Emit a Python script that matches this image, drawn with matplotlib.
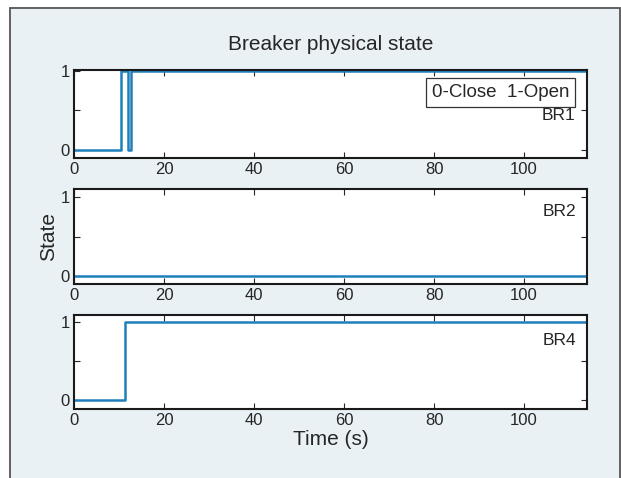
import matplotlib
matplotlib.use("Agg")
import matplotlib.pyplot as plt
from matplotlib.patches import Rectangle

plt.rcParams["font.family"] = ["Liberation Sans", "DejaVu Sans"]

# breaker state change points (step, held after each time)
br1_t = [0, 10.4, 12.1, 12.6, 115]
br1_s = [0, 1, 0, 1, 1]
br2_t = [0, 115]
br2_s = [0, 0]
br4_t = [0, 11.3, 115]
br4_s = [0, 1, 1]

names = ["BR1", "BR2", "BR4"]
series = [(br1_t, br1_s), (br2_t, br2_s), (br4_t, br4_s)]
xticks = [0, 20, 40, 60, 80, 100]

W, H = 621, 478
bg = "#e9f1f5"
blue = "#1f7fba"
ink = "#262626"

fig = plt.figure(figsize=(W / 100, H / 100), dpi=100)
fig.patch.set_facecolor("white")
fig.patches.append(Rectangle((10 / W, -0.02), 609.5 / W, 1 - 8 / H + 0.02,
                             transform=fig.transFigure, facecolor=bg,
                             edgecolor="#555555", lw=1.3, zorder=-5))

# axes boxes in pixels: (top, bottom)
boxes = [(70, 158), (189, 284), (315, 409)]
ylims = [(-0.1, 1.01), (-0.1, 1.1), (-0.11, 1.09)]
label_y = [0.44, 0.81, 0.77]

axes = []
for i, ((top, bot), (t, s)) in enumerate(zip(boxes, series)):
    ax = fig.add_axes([74 / W, 1 - bot / H, (587 - 74) / W, (bot - top) / H])
    ax.set_zorder(2)
    ax.step(t, s, where="post", color=blue, lw=1.8)
    ax.set_xlim(0, 114)
    ax.set_ylim(*ylims[i])
    ax.set_xticks(xticks)
    ax.set_yticks([0, 0.5, 1])
    ax.set_yticklabels(["0", "", "1"])
    ax.tick_params(direction="in", top=True, right=True, length=4,
                   width=0.8, labelsize=12, colors=ink, pad=3)
    for sp in ax.spines.values():
        sp.set_linewidth(1.5)
        sp.set_color("#1a1a1a")
    ax.text(111.5, label_y[i], names[i], ha="right", va="center",
            fontsize=12.5, color=ink)
    axes.append(ax)

axes[0].text(0.965, 0.745, "0-Close  1-Open", transform=axes[0].transAxes,
             ha="right", va="center", fontsize=13.5, color=ink,
             bbox=dict(boxstyle="square,pad=0.3", facecolor="white",
                       edgecolor="#333333", lw=0.9))

axes[1].set_ylabel("State", fontsize=15, color=ink, labelpad=2)
axes[2].set_xlabel("Time (s)", fontsize=15, color=ink, labelpad=1)
fig.text(331 / W, 1 - 45 / H, "Breaker physical state", ha="center",
         va="center", fontsize=15, color=ink)

fig.savefig("out.png", dpi=100, facecolor=fig.get_facecolor())
